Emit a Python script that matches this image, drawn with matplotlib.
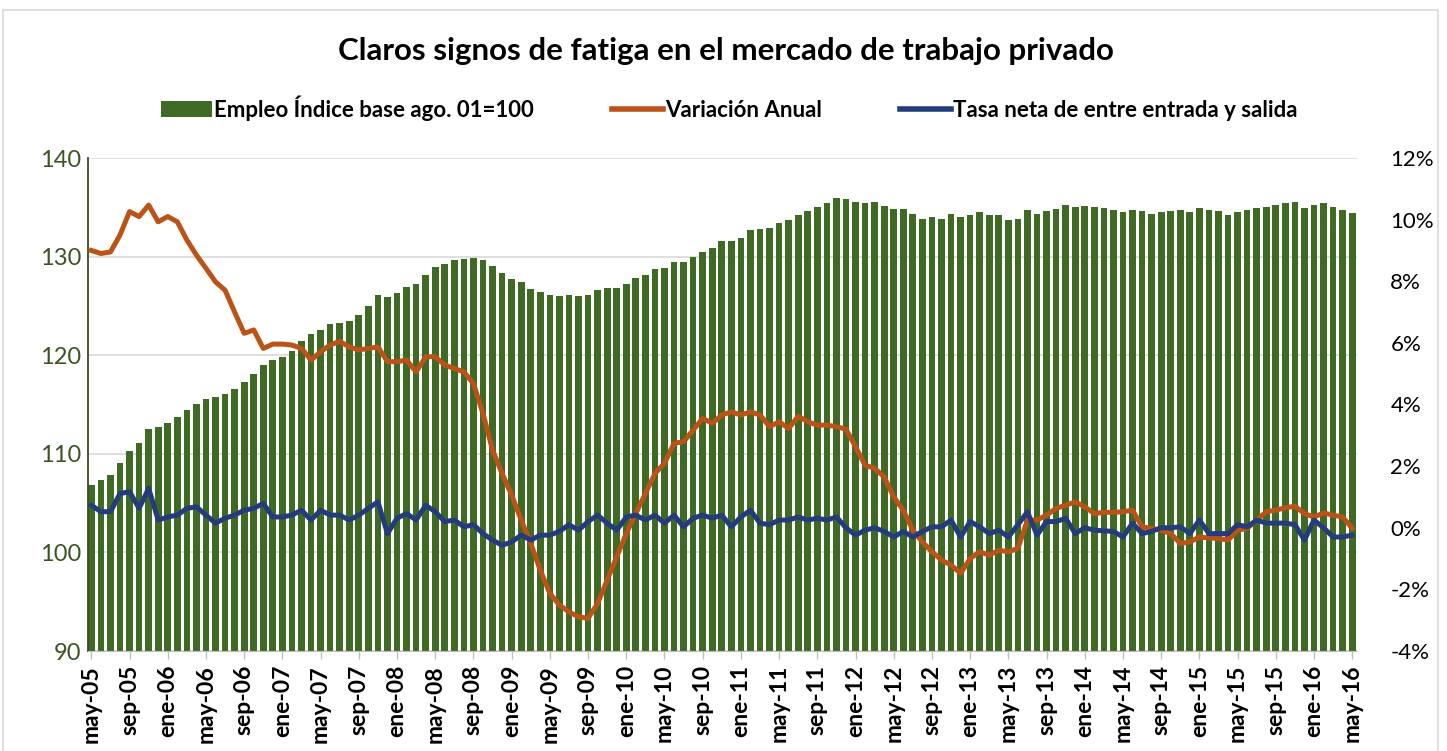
import numpy as np
import matplotlib
matplotlib.use("Agg")
import matplotlib.pyplot as plt
from matplotlib.lines import Line2D
from matplotlib.patches import Patch

plt.rcParams['font.family'] = ['Lato', 'DejaVu Sans']

# meses may-05 .. may-16
mes_nombres = ['ene', 'feb', 'mar', 'abr', 'may', 'jun',
               'jul', 'ago', 'sep', 'oct', 'nov', 'dic']
meses = []
for k in range(133):
    m = (4 + k) % 12
    a = 5 + (4 + k) // 12
    meses.append('%s-%02d' % (mes_nombres[m], a))

# Empleo, indice base ago. 01 = 100
empleo = [106.8, 107.3, 107.8, 109.1, 110.3, 111.1, 112.5, 112.7, 113.1, 113.7,
          114.4, 115.1, 115.6, 115.8, 116.1, 116.6, 117.3, 118.1, 119.0, 119.5,
          119.8, 120.4, 121.4, 122.2, 122.6, 123.2, 123.3, 123.5, 124.1, 125.0,
          126.1, 125.9, 126.3, 126.9, 127.2, 128.1, 128.9, 129.2, 129.7, 129.8,
          129.9, 129.7, 129.0, 128.3, 127.7, 127.4, 126.7, 126.4, 126.1, 126.0,
          126.1, 126.0, 126.1, 126.6, 126.8, 126.8, 127.2, 127.8, 128.1, 128.7,
          128.8, 129.5, 129.5, 130.0, 130.5, 130.9, 131.6, 131.6, 131.9, 132.7,
          132.8, 132.9, 133.4, 133.7, 134.2, 134.6, 135.0, 135.4, 135.9, 135.8,
          135.5, 135.4, 135.5, 135.1, 134.8, 134.8, 134.3, 133.8, 134.0, 133.8,
          134.3, 134.0, 134.2, 134.5, 134.2, 134.2, 133.7, 133.8, 134.7, 134.3,
          134.6, 134.8, 135.2, 135.0, 135.1, 135.0, 134.9, 134.7, 134.5, 134.7,
          134.6, 134.3, 134.5, 134.6, 134.7, 134.5, 134.9, 134.7, 134.6, 134.2,
          134.5, 134.7, 134.9, 135.0, 135.2, 135.4, 135.5, 134.9, 135.2, 135.4,
          135.0, 134.7, 134.4]

# Variacion anual (%)
variacion = [9.0, 8.9, 8.95, 9.5, 10.26, 10.1, 10.47, 9.93, 10.1, 9.93,
             9.34, 8.85, 8.42, 7.98, 7.71, 7.0, 6.31, 6.42, 5.82, 5.96,
             5.96, 5.93, 5.82, 5.44, 5.71, 5.93, 6.05, 5.87, 5.77, 5.82,
             5.87, 5.39, 5.39, 5.44, 5.06, 5.55, 5.55, 5.28, 5.17, 5.06,
             4.68, 3.71, 2.52, 1.76, 1.06, 0.25, -0.51, -1.38, -2.13, -2.51,
             -2.73, -2.89, -2.94, -2.46, -1.70, -0.94, -0.19, 0.46, 1.11, 1.76,
             2.09, 2.74, 2.79, 3.17, 3.55, 3.39, 3.66, 3.76, 3.66, 3.76,
             3.66, 3.28, 3.44, 3.22, 3.62, 3.44, 3.33, 3.33, 3.28, 3.2,
             2.63, 2.03, 1.93, 1.65, 1.0, 0.57, -0.08, -0.46, -0.78, -1.05,
             -1.21, -1.48, -1.0, -0.78, -0.89, -0.73, -0.78, -0.67, 0.25, 0.25,
             0.41, 0.63, 0.73, 0.84, 0.68, 0.46, 0.5, 0.5, 0.52, 0.57,
             0.03, -0.02, -0.08, -0.19, -0.51, -0.46, -0.3, -0.33, -0.35, -0.40,
             -0.08, -0.02, 0.25, 0.52, 0.57, 0.65, 0.70, 0.46, 0.35, 0.48,
             0.41, 0.35, -0.02]

# Tasa neta de entrada y salida (%)
tasa_neta = [0.73, 0.52, 0.52, 1.11, 1.17, 0.63, 1.28, 0.25, 0.35, 0.41,
             0.63, 0.68, 0.41, 0.15, 0.31, 0.41, 0.57, 0.63, 0.79, 0.35,
             0.35, 0.41, 0.57, 0.25, 0.57, 0.41, 0.41, 0.25, 0.41, 0.63,
             0.84, -0.19, 0.31, 0.46, 0.25, 0.73, 0.52, 0.2, 0.25, 0.03,
             0.1, -0.19, -0.4, -0.57, -0.46, -0.24, -0.4, -0.24, -0.24, -0.12,
             0.1, -0.08, 0.2, 0.41, 0.15, -0.08, 0.35, 0.41, 0.25, 0.41,
             0.15, 0.41, 0.03, 0.31, 0.41, 0.31, 0.41, 0.03, 0.35, 0.57,
             0.15, 0.1, 0.25, 0.25, 0.35, 0.25, 0.31, 0.25, 0.35, 0.0,
             -0.24, -0.08, 0.0, -0.12, -0.3, -0.12, -0.3, -0.12, 0.03, 0.03,
             0.25, -0.3, 0.2, 0.03, -0.19, -0.08, -0.3, 0.1, 0.52, -0.24,
             0.2, 0.2, 0.31, -0.19, 0.0, -0.08, -0.1, -0.12, -0.3, 0.15,
             -0.19, -0.12, 0.0, 0.0, 0.03, -0.19, 0.25, -0.19, -0.19, -0.19,
             0.1, 0.03, 0.25, 0.15, 0.15, 0.15, 0.1, -0.4, 0.25, 0.0,
             -0.3, -0.3, -0.24]

verde = '#3f6a24'
naranja = '#bb5218'
azul = '#243c7c'
gris = '#d9d9d9'

fig = plt.figure(figsize=(14.47, 7.51), dpi=100)
ax = fig.add_axes([88 / 1447, 1 - 651 / 751, (1357 - 88) / 1447, (651 - 158) / 751])
x = np.arange(len(meses))

ax.bar(x, np.array(empleo) - 90, bottom=90, width=0.7, color=verde, zorder=2)
ax.set_ylim(90, 140)
ax.set_yticks(range(90, 141, 10))
ax.yaxis.grid(True, color=gris, lw=1.2, zorder=0)
ax.set_axisbelow(True)
ax.tick_params(axis='y', length=0, labelsize=17, labelcolor='#3b5423', pad=5)
ax.set_xlim(-0.35, 132.5)
ax.set_xticks(x[::4])
ax.set_xticklabels(meses[::4], rotation=90, fontsize=16.5, fontweight='bold')
ax.tick_params(axis='x', length=6, color='#bfbfbf', width=1, pad=4)
for s in ['top', 'right']:
    ax.spines[s].set_visible(False)
ax.spines['left'].set_color('#3b4a22')
ax.spines['left'].set_linewidth(1.3)
ax.spines['bottom'].set_color('#bfbfbf')

ax2 = ax.twinx()
ax2.plot(x, variacion, color=naranja, lw=3.6, zorder=3, solid_joinstyle='round')
ax2.plot(x, tasa_neta, color=azul, lw=3.6, zorder=4, solid_joinstyle='round')
ax2.set_ylim(-4, 12)
ax2.set_yticks(range(-4, 13, 2))
ax2.set_yticklabels(['%d%%' % v for v in range(-4, 13, 2)])
ax2.tick_params(axis='y', length=0, labelsize=16, pad=24)
for s in ['top', 'right', 'left', 'bottom']:
    ax2.spines[s].set_visible(False)

fig.text(726 / 1447, 1 - 51 / 751, 'Claros signos de fatiga en el mercado de trabajo privado',
         ha='center', va='center', fontsize=22.5, fontweight='bold')

handles = [Patch(facecolor=verde, edgecolor='none'),
           Line2D([], [], color=naranja, lw=4),
           Line2D([], [], color=azul, lw=4)]
etiquetas = ['Empleo Índice base ago. 01=100', 'Variación Anual',
             'Tasa neta de entre entrada y salida']
fig.legend(handles, etiquetas, loc='center', bbox_to_anchor=(729 / 1447, 1 - 108 / 751),
           ncol=3, frameon=False, prop={'weight': 'bold', 'size': 16},
           handlelength=2.3, handletextpad=0.1, columnspacing=3.5)

# marco del grafico
fig.add_artist(Line2D([3 / 1447, 3 / 1447, 1438 / 1447, 1438 / 1447],
                      [0, 1 - 10 / 751, 1 - 10 / 751, 0],
                      transform=fig.transFigure, color='#d9d9d9', lw=1.2))

fig.savefig('out.png', dpi=100, facecolor='white')
